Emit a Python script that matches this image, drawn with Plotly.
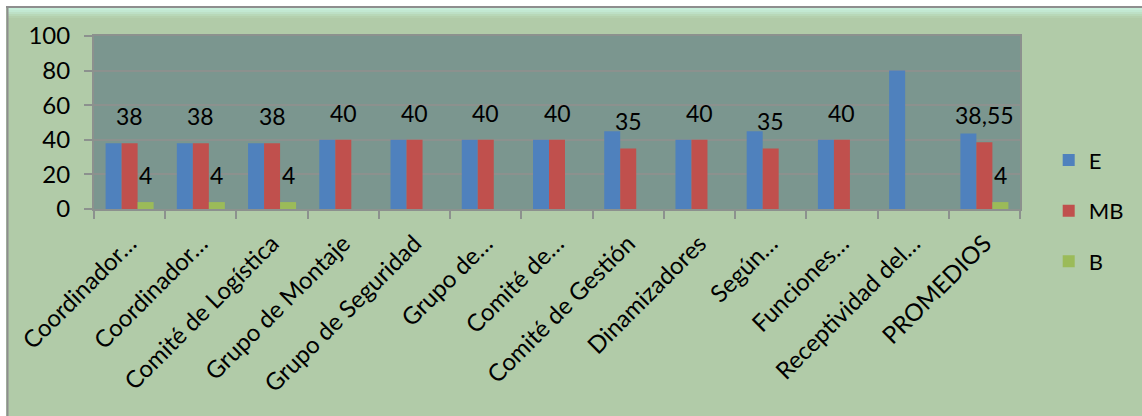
import plotly.graph_objects as go

# Evaluation groups and ratings per group
categories = [
    "Coordinador…", "Coordinador…", "Comité de Logística", "Grupo de Montaje",
    "Grupo de Seguridad", "Grupo de…", "Comité de…", "Comité de Gestión",
    "Dinamizadores", "Según…", "Funciones…", "Receptividad del…", "PROMEDIOS",
]
e_values = [38, 38, 38, 40, 40, 40, 40, 45, 40, 45, 40, 80, 43.67]
mb_values = [38, 38, 38, 40, 40, 40, 40, 35, 40, 35, 40, None, 38.55]
b_values = [4, 4, 4, None, None, None, None, None, None, None, None, None, 4]
y_ticks = [0, 20, 40, 60, 80, 100]

W, H = 1142, 416
M_L, M_R, M_T, M_B = 94, 122, 36, 207
BARGAP = 0.326
FONT = "Lato"
GREEN_BG = "#b1cba8"
PLOT_BG = "#7b968f"
GRID = "#8c918e"
COLORS = {"E": "#4f81bd", "MB": "#c0504d", "B": "#9bbb59"}

# categories sit at integer positions; tick marks go on the boundaries
xpos = list(range(len(categories)))
boundaries = [i - 0.5 for i in range(len(categories) + 1)]


def px_x(px):
    return (px - M_L) / (W - M_L - M_R)


def px_y(py):
    return (H - M_B - py) / (H - M_T - M_B)


fig = go.Figure()
for name, vals in (("E", e_values), ("MB", mb_values), ("B", b_values)):
    fig.add_trace(go.Bar(
        x=xpos, y=vals, name=name, marker_color=COLORS[name],
        marker_line_width=0, legendgroup=name,
    ))

# value labels above the MB and B bars
bar_w = (1 - BARGAP) / 3


def fmt(v):
    s = f"{v:.2f}".rstrip("0").rstrip(".")
    return s.replace(".", ",")


annotations = []
for offset, vals in ((0.0, mb_values), (bar_w, b_values)):
    for i, v in zip(xpos, vals):
        if v is None:
            continue
        annotations.append(dict(
            x=i + offset, y=v, xref="x", yref="y", text=fmt(v),
            showarrow=False, yanchor="middle", yshift=27,
            font=dict(family=FONT, size=23, color="black"),
        ))

# chart frame: white outer margin, gray edge, soft highlight along the top
shapes = [
    dict(type="rect", xref="paper", yref="paper", layer="above",
         x0=px_x(0), x1=px_x(W), y0=px_y(0), y1=px_y(6),
         fillcolor="white", line_width=0),
    dict(type="rect", xref="paper", yref="paper", layer="above",
         x0=px_x(0), x1=px_x(6), y0=px_y(0), y1=px_y(H),
         fillcolor="white", line_width=0),
]
top_band = ["#c6eed9", "#c2e8d2", "#bde0c6", "#b8d8b8", "#b4d0ae"]
for k, c in enumerate(top_band):
    shapes.append(dict(type="rect", xref="paper", yref="paper", layer="below",
                       x0=px_x(7), x1=px_x(W), y0=px_y(8 + 2 * k), y1=px_y(10 + 2 * k),
                       fillcolor=c, line_width=0))
shapes += [
    dict(type="line", xref="paper", yref="paper", layer="above",
         x0=px_x(6), x1=px_x(W), y0=px_y(7), y1=px_y(7),
         line=dict(color="#8e8e8e", width=2)),
    dict(type="line", xref="paper", yref="paper", layer="above",
         x0=px_x(7.5), x1=px_x(7.5), y0=px_y(6), y1=px_y(H),
         line=dict(color="#8e8e8e", width=2)),
]

fig.update_layout(
    width=W, height=H,
    margin=dict(l=M_L, r=M_R, t=M_T, b=M_B, pad=0),
    paper_bgcolor=GREEN_BG, plot_bgcolor=PLOT_BG,
    barmode="group", bargap=BARGAP, bargroupgap=0,
    font=dict(family=FONT, size=22, color="black"),
    showlegend=True,
    legend=dict(x=1.031, y=-0.01, xanchor="left", yanchor="middle",
                bgcolor="rgba(0,0,0,0)", tracegroupgap=19,
                traceorder="grouped", font=dict(family=FONT, size=22),
                itemwidth=30),
    annotations=annotations,
    shapes=shapes,
)
fig.update_xaxes(
    tickmode="array", tickvals=xpos, ticktext=categories,
    range=[-0.5, len(categories) - 0.5],
    tickangle=-45, ticks="", ticklabelstandoff=9,
    minor=dict(tickmode="array", tickvals=boundaries, ticks="outside",
               ticklen=8, tickwidth=2, tickcolor=GRID, showgrid=False),
    showline=True, linecolor=GRID, linewidth=2, mirror=True, showgrid=False,
    zeroline=False,
    tickfont=dict(family=FONT, size=24, color="black"),
)
fig.update_yaxes(
    range=[0, 100], tickvals=y_ticks, ticks="outside", ticklen=8,
    tickwidth=2, tickcolor=GRID, showline=True, linecolor=GRID,
    linewidth=2, mirror=True, showgrid=True, gridcolor=GRID, gridwidth=2,
    zeroline=False, ticklabelstandoff=9,
    tickfont=dict(family=FONT, size=24, color="black"),
)

fig.write_html("out.html")
